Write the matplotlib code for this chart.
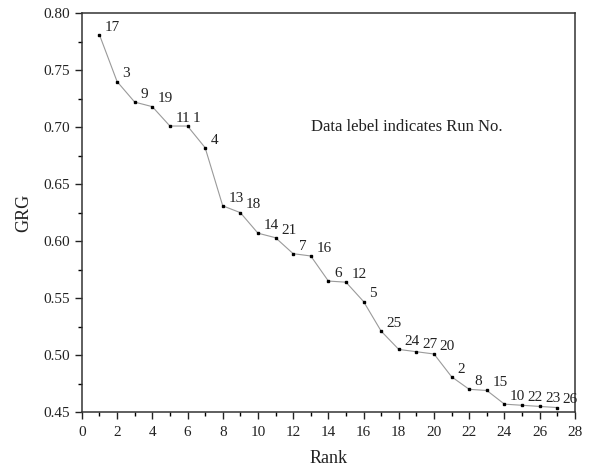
import matplotlib
matplotlib.use("Agg")
import matplotlib.pyplot as plt
from matplotlib.ticker import MultipleLocator, FormatStrFormatter

# rank order, GRG value and run number of each point
rank = list(range(1, 28))
grg = [0.781, 0.740, 0.722, 0.718, 0.701, 0.701, 0.682, 0.631, 0.625, 0.607,
       0.603, 0.589, 0.587, 0.565, 0.564, 0.547, 0.521, 0.505, 0.503, 0.501,
       0.481, 0.470, 0.469, 0.457, 0.456, 0.455, 0.454]
run_no = [17, 3, 9, 19, 11, 1, 4, 13, 18, 14, 21, 7, 16, 6, 12, 5, 25, 24,
          27, 20, 2, 8, 15, 10, 22, 23, 26]

plt.rcParams["font.family"] = ["Liberation Serif", "DejaVu Serif"]

fig = plt.figure(figsize=(5.89, 4.71), dpi=100)
ax = fig.add_axes([0.139, 0.125, 0.837, 0.847])

ax.plot(rank, grg, color="#9a9a9a", linewidth=0.8, marker="s",
        markersize=1.8, markerfacecolor="black", markeredgecolor="black")

for x, y, lab in zip(rank, grg, run_no):
    ax.annotate(str(lab), (x, y), xytext=(4, 3), textcoords="offset points",
                ha="left", va="baseline", fontsize=11, color="#222222")

ax.text(13.0, 0.700, "Data lebel indicates Run No.", fontsize=12,
        ha="left", va="center", color="#222222")

ax.set_xlim(0, 28)
ax.set_ylim(0.45, 0.80)
ax.xaxis.set_major_locator(MultipleLocator(2))
ax.xaxis.set_minor_locator(MultipleLocator(1))
ax.yaxis.set_major_locator(MultipleLocator(0.05))
ax.yaxis.set_minor_locator(MultipleLocator(0.025))
ax.yaxis.set_major_formatter(FormatStrFormatter("%.2f"))
ax.tick_params(which="major", direction="out", length=5, width=1,
               labelsize=11, colors="#222222")
ax.tick_params(axis="x", which="major", pad=5)
ax.tick_params(which="minor", direction="out", length=3, width=1)
for s in ax.spines.values():
    s.set_linewidth(1.1)
    s.set_color("#333333")

ax.set_xlabel("Rank", fontsize=13, color="#222222", labelpad=8)
ax.set_ylabel("GRG", fontsize=13, color="#222222", labelpad=8)

fig.savefig("out.png", dpi=100)
